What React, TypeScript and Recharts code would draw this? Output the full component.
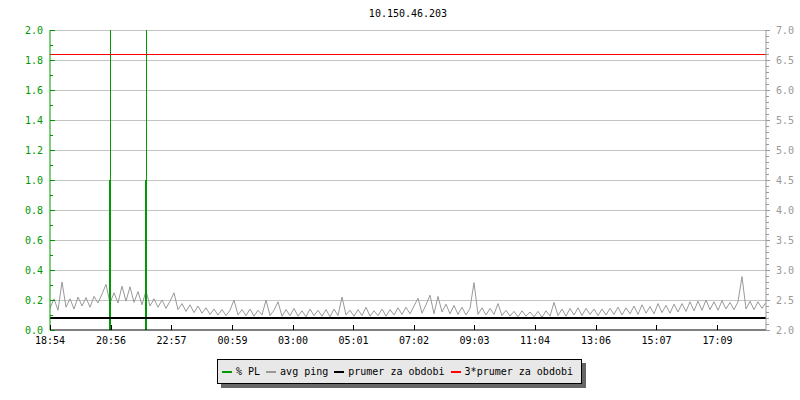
import React from 'react'
import { ComposedChart, Line, XAxis, YAxis, ReferenceLine } from 'recharts'

const TITLE = '10.150.46.203'

// minutes since 18:54, one tick roughly every 2 hours
const TIME_LABELS = ['18:54', '20:56', '22:57', '00:59', '03:00', '05:01', '07:02', '09:03', '11:04', '13:06', '15:07', '17:09']
const TIME_TICKS = [0, 122, 243, 365, 486, 607, 728, 849, 970, 1092, 1213, 1335]
const SPAN_MIN = 1432
const STEP_MIN = 8

// avg ping (right axis), one sample every STEP_MIN minutes
const AVG_PING = [
  2.36, 2.52, 2.33, 2.80, 2.38, 2.52, 2.35, 2.55, 2.40, 2.54, 2.38, 2.56, 2.45, 2.60, 2.76, 2.45,
  2.62, 2.45, 2.73, 2.48, 2.72, 2.46, 2.64, 2.42, 2.65,
  2.40, 2.52, 2.38, 2.50, 2.36, 2.48, 2.62, 2.34, 2.44, 2.31, 2.42, 2.29, 2.40, 2.28, 2.37, 2.26,
  2.35, 2.25, 2.34, 2.24, 2.33, 2.50,
  2.25, 2.34, 2.24, 2.35, 2.23, 2.33, 2.25, 2.50, 2.24, 2.33, 2.47, 2.23, 2.34, 2.24, 2.36, 2.23,
  2.32, 2.22, 2.35, 2.24, 2.33, 2.23, 2.34, 2.22, 2.35, 2.24, 2.55, 2.25, 2.33, 2.23, 2.34, 2.24,
  2.38, 2.23, 2.32, 2.24, 2.35, 2.23, 2.34, 2.25, 2.37, 2.26, 2.38, 2.27, 2.40,
  2.53, 2.28, 2.42, 2.58, 2.27, 2.56, 2.30, 2.43, 2.27, 2.41, 2.26, 2.38, 2.25, 2.36, 2.79, 2.26,
  2.37, 2.25, 2.36, 2.26, 2.44, 2.24, 2.33, 2.23, 2.31, 2.22, 2.32, 2.23, 2.30, 2.22, 2.31, 2.21,
  2.32, 2.23, 2.46, 2.24, 2.35, 2.23, 2.36, 2.25, 2.37, 2.24, 2.36, 2.26, 2.35,
  2.24, 2.35, 2.25, 2.36, 2.26, 2.38, 2.25, 2.37, 2.27, 2.40, 2.26, 2.42, 2.28, 2.39, 2.27, 2.44,
  2.29, 2.41, 2.28, 2.43, 2.30, 2.44, 2.31, 2.47, 2.32, 2.48, 2.33, 2.50, 2.34, 2.47, 2.33, 2.49,
  2.35, 2.46, 2.34, 2.47, 2.89, 2.35, 2.48, 2.34, 2.47, 2.36, 2.46,
]

// packet loss events (left axis)
const PL_TIMES = [120, 192]
const PL_VALUES = [1.0, 1.0]

const PRUMER = 2.2
const PRUMER_3X = 6.6

const PL_TICKS = [0.2, 0.4, 0.6, 0.8, 1.0, 1.2, 1.4, 1.6, 1.8, 2.0]

const GREEN = '#009900'
const GREY = '#999999'
const FONT = '"DejaVu Sans Mono", monospace'

const LEGEND = [
  { label: '% PL', color: GREEN },
  { label: 'avg ping', color: GREY },
  { label: 'prumer za obdobi', color: '#000000' },
  { label: '3*prumer za obdobi', color: '#ff0000' },
]

// minor ticks every 0.1 on both value axes
const leftTicks = Array.from({ length: 21 }, (_, i) => i / 10)
const rightTicks = Array.from({ length: 51 }, (_, i) => 2 + i / 10)

const LeftTick = (props: any) => {
  const { x, y, payload } = props
  const major = Math.round(payload.value * 10) % 2 === 0
  return (
    <g>
      <line x1={x} x2={x + (major ? 5 : 3)} y1={y} y2={y} stroke={GREEN} shapeRendering="crispEdges" />
      {major && (
        <text x={x - 7} y={y} dy={3.5} textAnchor="end" fill={GREEN} fontSize={10} fontFamily={FONT}>
          {payload.value.toFixed(1)}
        </text>
      )}
    </g>
  )
}

const RightTick = (props: any) => {
  const { x, y, payload } = props
  const major = Math.round((payload.value - 2) * 10) % 5 === 0
  return (
    <g>
      <line x1={x} x2={x + (major ? 4 : 3)} y1={y} y2={y} stroke={GREY} shapeRendering="crispEdges" />
      {major && (
        <text x={x + 10} y={y} dy={3.5} textAnchor="start" fill={GREY} fontSize={10} fontFamily={FONT}>
          {payload.value.toFixed(1)}
        </text>
      )}
    </g>
  )
}

const TimeTick = (props: any) => {
  const { x, y, payload, index } = props
  return (
    <g>
      <line x1={x} x2={x} y1={y} y2={y - 5} stroke="#000" shapeRendering="crispEdges" />
      <text x={x} y={y + 14} textAnchor="middle" fill="#000" fontSize={10} fontFamily={FONT}>
        {TIME_LABELS[index] ?? payload.value}
      </text>
    </g>
  )
}

export default function App() {
  const data = AVG_PING.map((ping, i) => ({ t: i * STEP_MIN, ping }))

  // each loss event is a vertical segment from 0 up to its value
  const plData: { t: number; pl: number | null }[] = []
  PL_TIMES.forEach((t, i) => {
    plData.push({ t, pl: 0 }, { t, pl: PL_VALUES[i] }, { t: t + 1, pl: null })
  })

  return (
    <div style={{ position: 'absolute', left: 0, top: 0, width: 800, height: 400, background: '#fff' }}>
      <div
        style={{
          position: 'absolute', left: 0, top: 8, width: 816, textAlign: 'center',
          fontFamily: FONT, fontSize: 10, lineHeight: '12px', color: '#000',
        }}
      >
        {TITLE}
      </div>
      <ComposedChart width={800} height={400} data={data} margin={{ top: 30, right: 0, bottom: 40, left: 0 }}>
        <XAxis
          type="number"
          dataKey="t"
          domain={[0, SPAN_MIN]}
          ticks={TIME_TICKS}
          interval={0}
          height={30}
          tickSize={0}
          tickMargin={0}
          tickLine={false}
          axisLine={{ stroke: '#000' }}
          tick={<TimeTick />}
          allowDataOverflow
        />
        <YAxis
          yAxisId="left"
          orientation="left"
          width={50}
          domain={[0, 2]}
          ticks={leftTicks}
          interval={0}
          tickSize={0}
          tickMargin={0}
          tickLine={false}
          axisLine={{ stroke: GREEN }}
          tick={<LeftTick />}
          allowDataOverflow
        />
        <YAxis
          yAxisId="right"
          orientation="right"
          width={34}
          domain={[2, 7]}
          ticks={rightTicks}
          interval={0}
          tickSize={0}
          tickMargin={0}
          tickLine={false}
          axisLine={{ stroke: GREY }}
          tick={<RightTick />}
          allowDataOverflow
        />
        {PL_TICKS.map((v) => (
          <ReferenceLine key={v} yAxisId="left" y={v} stroke="#c4c4c4" shapeRendering="crispEdges" />
        ))}
        <Line
          yAxisId="right"
          dataKey="ping"
          type="linear"
          stroke={GREY}
          strokeWidth={1}
          dot={false}
          isAnimationActive={false}
        />
        {PL_TIMES.map((t) => (
          <ReferenceLine key={t} yAxisId="left" x={t} stroke={GREEN} shapeRendering="crispEdges" />
        ))}
        <Line
          yAxisId="left"
          data={plData}
          dataKey="pl"
          type="linear"
          stroke={GREEN}
          strokeWidth={2}
          dot={false}
          connectNulls={false}
          isAnimationActive={false}
        />
        <ReferenceLine yAxisId="right" y={PRUMER} stroke="#000" strokeWidth={2} />
        <ReferenceLine yAxisId="right" y={PRUMER_3X} stroke="#ff0000" shapeRendering="crispEdges" />
      </ComposedChart>
      <div
        style={{
          position: 'absolute', left: 217, top: 359, width: 365, height: 25, boxSizing: 'border-box',
          border: '1px solid #000', background: '#e8e8e8', boxShadow: '4px 4px 0 #666',
          display: 'flex', alignItems: 'center', paddingLeft: 4,
          fontFamily: FONT, fontSize: 10, color: '#000', whiteSpace: 'pre',
        }}
      >
        {LEGEND.map((item) => (
          <React.Fragment key={item.label}>
            <span style={{ display: 'inline-block', width: 10, height: 2, background: item.color, marginRight: 4 }} />
            <span style={{ marginRight: 6 }}>{item.label}</span>
          </React.Fragment>
        ))}
      </div>
    </div>
  )
}
